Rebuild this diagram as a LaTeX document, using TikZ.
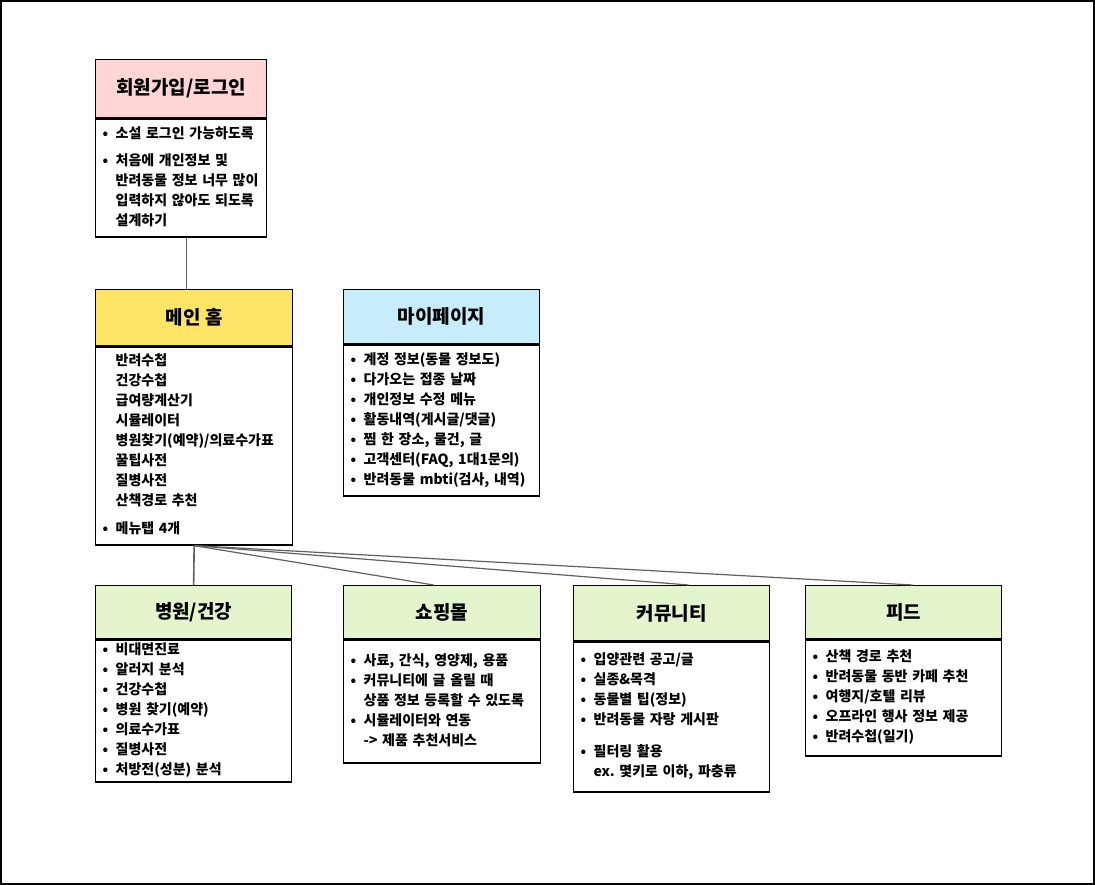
\documentclass[tikz,border=0pt]{standalone}
\usepackage{fontspec}
\setmainfont{Noto Sans CJK KR}
\usepackage{xcolor}
\usetikzlibrary{positioning}
\setlength{\parindent}{0pt}
\frenchspacing

\definecolor{loginpink}{RGB}{255,213,213}
\definecolor{homeyellow}{RGB}{255,229,102}
\definecolor{mypageblue}{RGB}{199,236,250}
\definecolor{menugreen}{RGB}{228,245,205}

\begin{document}
\begin{tikzpicture}[x=1pt,y=-1pt,
  head/.style={draw=black,line width=1.3pt,anchor=north west,inner sep=0pt,
    font=\fontsize{19}{22}\selectfont\bfseries},
  body/.style={draw=black,line width=1.3pt,fill=white,inner xsep=7pt,inner ysep=0pt,
    align=left,font=\fontsize{14}{20}\selectfont\bfseries},
  link/.style={draw=gray!75!black,line width=1.6pt}]

\useasboundingbox (0,0) rectangle (1095,885);
\draw[line width=2pt] (1,1) rectangle (1094,884);

% top box
\node[head,fill=loginpink,minimum width=171,minimum height=58] (login) at (95,59) {회원가입/로그인};
\node[body,minimum width=171,minimum height=118,text width=157,below=0pt of login] (login body)
{\begin{tabular}{@{}p{13pt}@{}l@{}}
• & 소설 로그인 가능하도록\\[7pt]
• & 처음에 개인정보 및\\
  & 반려동물 정보 너무 많이\\
  & 입력하지 않아도 되도록\\
  & 설계하기
\end{tabular}};

% second row
\node[head,fill=homeyellow,minimum width=197,minimum height=56] (home) at (95,289) {메인 홈};
\node[body,minimum width=197,minimum height=198,text width=183,below=0pt of home] (home body)
{\begin{tabular}{@{}p{13pt}@{}l@{}}
  & 반려수첩\\
  & 건강수첩\\
  & 급여량계산기\\
  & 시뮬레이터\\
  & 병원찾기(예약)/의료수가표\\
  & 꿀팁사전\\
  & 질병사전\\
  & 산책경로 추천\\[8pt]
• & 메뉴탭 4개
\end{tabular}};

\node[head,fill=mypageblue,minimum width=196,minimum height=54] (mypage) at (343,289) {마이페이지};
\node[body,minimum width=196,minimum height=151,text width=182,below=0pt of mypage] (mypage body)
{\begin{tabular}{@{}p{13pt}@{}l@{}}
• & 계정 정보(동물 정보도)\\
• & 다가오는 접종 날짜\\
• & 개인정보 수정 메뉴\\
• & 활동내역(게시글/댓글)\\
• & 찜 한 장소, 물건, 글\\
• & 고객센터(FAQ, 1대1문의)\\
• & 반려동물 mbti(검사, 내역)
\end{tabular}};

% bottom row
\node[head,fill=menugreen,minimum width=196,minimum height=53] (hospital) at (95,585) {병원/건강};
\node[body,minimum width=196,minimum height=142,text width=182,below=0pt of hospital] (hospital body)
{\begin{tabular}{@{}p{13pt}@{}l@{}}
• & 비대면진료\\
• & 알러지 분석\\
• & 건강수첩\\
• & 병원 찾기(예약)\\
• & 의료수가표\\
• & 질병사전\\
• & 처방전(성분) 분석
\end{tabular}};

\node[head,fill=menugreen,minimum width=197,minimum height=53] (shop) at (343,585) {쇼핑몰};
\node[body,minimum width=197,minimum height=123,text width=183,below=0pt of shop] (shop body)
{\begin{tabular}{@{}p{13pt}@{}l@{}}
• & 사료, 간식, 영양제, 용품\\
• & 커뮤니티에 글 올릴 때\\
  & 상품 정보 등록할 수 있도록\\
• & 시뮬레이터와 연동\\
  & -> 제품 추천서비스
\end{tabular}};

\node[head,fill=menugreen,minimum width=196,minimum height=55] (community) at (573,585) {커뮤니티};
\node[body,minimum width=196,minimum height=150,text width=182,below=0pt of community] (community body)
{\begin{tabular}{@{}p{13pt}@{}l@{}}
• & 입양관련 공고/글\\
• & 실종\&목격\\
• & 동물별 팁(정보)\\
• & 반려동물 자랑 게시판\\[12pt]
• & 필터링 활용\\
  & ex. 몇키로 이하, 파충류
\end{tabular}};

\node[head,fill=menugreen,minimum width=196,minimum height=53] (feed) at (805,585) {피드};
\node[body,minimum width=196,minimum height=116,text width=182,below=0pt of feed] (feed body)
{\begin{tabular}{@{}p{13pt}@{}l@{}}
• & 산책 경로 추천\\
• & 반려동물 동반 카페 추천\\
• & 여행지/호텔 리뷰\\
• & 오프라인 행사 정보 제공\\
• & 반려수첩(일기)
\end{tabular}};

% connectors
\draw[link] ([xshift=5.5pt]login body.south) -- ([xshift=-7.5pt]home.north);
\draw[link] (home body.south) -- (hospital.north);
\draw[link,line width=1.2pt] (home body.south) -- ([xshift=-8.5pt]shop.north);
\draw[link,line width=1.2pt] (home body.south) -- ([xshift=17pt]community.north);
\draw[link,line width=1.2pt] (home body.south) -- ([xshift=9pt]feed.north);
\end{tikzpicture}
\end{document}
